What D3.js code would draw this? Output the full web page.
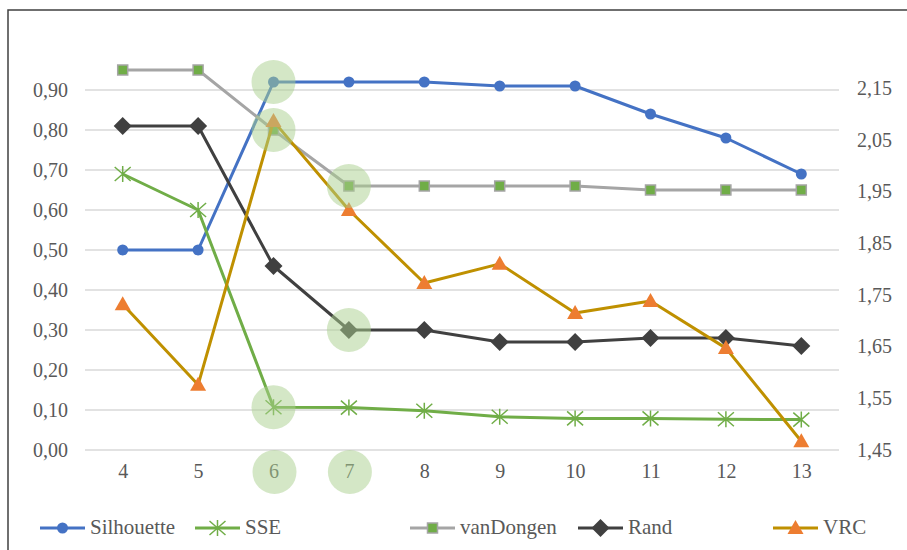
<!DOCTYPE html>
<html><head><meta charset="utf-8">
<script src="https://cdn.jsdelivr.net/npm/d3@7"></script>
<style>
html,body{margin:0;padding:0;background:#fff;}
svg{display:block;}
svg text{font-family:'Liberation Serif','Times New Roman',serif !important;}
</style></head>
<body><svg id="c" width="907" height="550" style="font-family:'Liberation Serif',serif"></svg>
<script>
const categories = ["4","5","6","7","8","9","10","11","12","13"];
const silhouette = [0.50,0.50,0.92,0.92,0.92,0.91,0.91,0.84,0.78,0.69];
const sse        = [0.69,0.60,0.107,0.106,0.098,0.083,0.079,0.079,0.077,0.076];
const vanDongen  = [0.95,0.95,0.80,0.66,0.66,0.66,0.66,0.65,0.65,0.65];
const rand       = [0.81,0.81,0.46,0.30,0.30,0.27,0.27,0.28,0.28,0.26];
const vrc        = [1.732,1.576,2.086,1.914,1.773,1.810,1.715,1.738,1.647,1.467];
const leftTicks  = [0,0.1,0.2,0.3,0.4,0.5,0.6,0.7,0.8,0.9];
const rightTicks = [1.45,1.55,1.65,1.75,1.85,1.95,2.05,2.15];
// highlighted points: [category, series]
const highlights = [["6","silhouette"],["6","vanDongen"],["7","vanDongen"],["7","rand"],["6","sse"]];
const highlightedCats = ["6","7"];

const FONT = "'Liberation Serif','Times New Roman',serif";
const svg = d3.select("#c");
const W = 907, H = 550;
const plot = {left:85, right:839, top:50, bottom:450};

const x = d3.scalePoint().domain(categories).range([plot.left, plot.right]).padding(0.5);
const y = d3.scaleLinear().domain([0,1]).range([plot.bottom, plot.top]);
const y2 = d3.scaleLinear().domain([1.45,2.15]).range([plot.bottom, 88]);
const fmt = d3.format(".2f");
const comma = v => fmt(v).replace(".", ",");

// frame
svg.append("rect").attr("x",8).attr("y",10).attr("width",W+20).attr("height",H+20)
  .attr("fill","none").attr("stroke","#404040").attr("stroke-width",1.5);

// gridlines
svg.append("g").selectAll("line").data(leftTicks).join("line")
  .attr("x1",plot.left).attr("x2",plot.right)
  .attr("y1",d=>y(d)).attr("y2",d=>y(d))
  .attr("stroke","#d9d9d9").attr("stroke-width",1.3);

function styleAxis(g){
  g.attr("font-family",null);
  g.select(".domain").remove();
  g.selectAll("text").attr("font-size",20).attr("fill","#595959").style("font-family",FONT);
}

// left axis
const gL = svg.append("g").attr("transform",`translate(${plot.left},0)`)
  .call(d3.axisLeft(y).tickValues(leftTicks).tickFormat(comma).tickSize(0).tickPadding(17));
styleAxis(gL);

// right axis
const gR = svg.append("g").attr("transform",`translate(${plot.right},0)`)
  .call(d3.axisRight(y2).tickValues(rightTicks).tickFormat(comma).tickSize(0).tickPadding(18));
styleAxis(gR);

// x axis
const gB = svg.append("g").attr("transform",`translate(0,${plot.bottom})`)
  .call(d3.axisBottom(x).tickSize(0).tickPadding(14));
styleAxis(gB);

const series = [
  {key:"silhouette", name:"Silhouette", values:silhouette, scale:y, line:"#4472c4", marker:"circle", fill:"#4472c4", stroke:"none"},
  {key:"sse", name:"SSE", values:sse, scale:y, line:"#70ad47", marker:"star", fill:"none", stroke:"#70ad47"},
  {key:"vanDongen", name:"vanDongen", values:vanDongen, scale:y, line:"#a5a5a5", marker:"square", fill:"#70ad47", stroke:"#a5a5a5"},
  {key:"rand", name:"Rand", values:rand, scale:y, line:"#404040", marker:"diamond", fill:"#404040", stroke:"none"},
  {key:"vrc", name:"VRC", values:vrc, scale:y2, line:"#bf9000", marker:"triangle", fill:"#ed7d31", stroke:"none"}
];

function drawMarker(g, s, cx, cy){
  if (s.marker==="circle"){
    g.append("circle").attr("cx",cx).attr("cy",cy).attr("r",5.5).attr("fill",s.fill);
  } else if (s.marker==="square"){
    g.append("rect").attr("x",cx-5).attr("y",cy-5).attr("width",10).attr("height",10)
      .attr("fill",s.fill).attr("stroke",s.stroke).attr("stroke-width",1.5);
  } else if (s.marker==="diamond"){
    g.append("path").attr("d",`M${cx},${cy-9}L${cx+9},${cy}L${cx},${cy+9}L${cx-9},${cy}Z`).attr("fill",s.fill);
  } else if (s.marker==="triangle"){
    g.append("path").attr("d",`M${cx},${cy-8}L${cx+8},${cy+6}L${cx-8},${cy+6}Z`).attr("fill",s.fill);
  } else if (s.marker==="star"){
    const p = [`M${cx},${cy-8}L${cx},${cy+8}`,
      `M${cx-8},${cy-7}L${cx+8},${cy+7}`,`M${cx-8},${cy+7}L${cx+8},${cy-7}`].join("");
    g.append("path").attr("d",p).attr("fill","none").attr("stroke",s.stroke).attr("stroke-width",1.5);
  }
}

series.forEach(s=>{
  const g = svg.append("g");
  const line = d3.line().x((d,i)=>x(categories[i])).y(d=>s.scale(d));
  g.append("path").datum(s.values).attr("d",line).attr("fill","none")
    .attr("stroke",s.line).attr("stroke-width",3).attr("stroke-linejoin","round");
  s.values.forEach((v,i)=>drawMarker(g, s, x(categories[i]), s.scale(v)));
});

// highlights
const hl = svg.append("g");
highlights.forEach(([c,k])=>{
  const s = series.find(d=>d.key===k);
  const v = s.values[categories.indexOf(c)];
  hl.append("circle").attr("cx",x(c)).attr("cy",s.scale(v)).attr("r",22)
    .attr("fill","rgba(169,208,142,0.5)");
});
highlightedCats.forEach(c=>{
  hl.append("circle").attr("cx",x(c)+1).attr("cy",plot.bottom+22).attr("r",22)
    .attr("fill","rgba(169,208,142,0.5)");
});

// legend
const legendX = [40, 195, 410, 578, 773];
const lg = svg.append("g");
series.forEach((s,i)=>{
  const lx = legendX[i], ly0 = 528;
  lg.append("line").attr("x1",lx).attr("x2",lx+45).attr("y1",ly0).attr("y2",ly0)
    .attr("stroke",s.line).attr("stroke-width",3);
  drawMarker(lg, s, lx+22.5, ly0);
  lg.append("text").attr("x",lx+50).attr("y",ly0+6).attr("font-size",21)
    .style("font-family",FONT).attr("fill","#595959").text(s.name);
});
</script></body></html>
